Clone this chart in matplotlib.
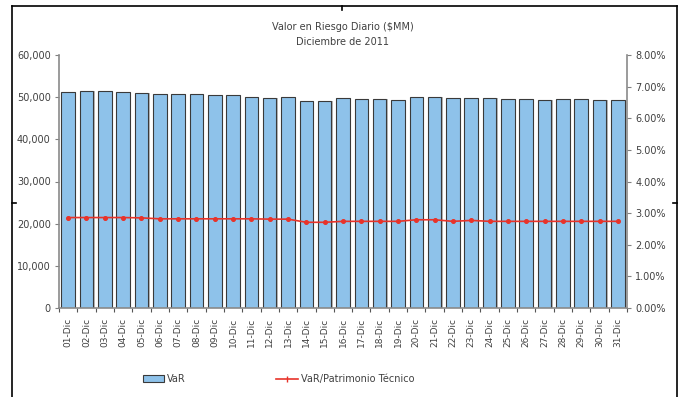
import matplotlib
matplotlib.use("Agg")
import matplotlib.pyplot as plt
from matplotlib.lines import Line2D
from matplotlib.patches import Patch
from matplotlib.ticker import FuncFormatter, FixedLocator
import numpy as np

plt.rcParams['font.family'] = ['DejaVu Sans']

days = ["%02d-Dic" % d for d in range(1, 32)]
var_values = [51260, 51400, 51400, 51250, 51000, 50800, 50800, 50800, 50450, 50450,
              50100, 49850, 50100, 49050, 49050, 49850, 49600, 49600, 49350, 50150,
              50150, 49850, 49850, 49850, 49600, 49600, 49350, 49600, 49600, 49350,
              49350]
ratio_pct = [2.86, 2.86, 2.86, 2.86, 2.85, 2.82, 2.82, 2.82, 2.82, 2.82,
             2.82, 2.81, 2.81, 2.71, 2.71, 2.74, 2.74, 2.74, 2.74, 2.79,
             2.79, 2.74, 2.77, 2.74, 2.74, 2.74, 2.74, 2.74, 2.74, 2.74,
             2.74]
title_lines = ["Valor en Riesgo Diario ($MM)", "Diciembre de 2011"]
legend_labels = ["VaR", "VaR/Patrimonio Técnico"]

W, H = 685, 397
fig = plt.figure(figsize=(W / 100, H / 100), dpi=100)
ax = fig.add_axes([59 / W, 1 - 308 / H, (627 - 59) / W, (308 - 55) / H])

x = np.arange(len(days))
bar_color = "#8EC2EA"
edge = "#3a3a3a"
# shadow bars
ax.bar(x + 0.07, var_values, width=0.74, color="#b8b8b8", edgecolor="none", zorder=1)
ax.bar(x, var_values, width=0.74, color=bar_color, edgecolor=edge, linewidth=0.8, zorder=2)

ax.set_xlim(-0.5, len(days) - 0.5)
ax.set_ylim(0, 60000)
ax.set_yticks(np.arange(0, 60001, 10000))
ax.yaxis.set_major_formatter(FuncFormatter(lambda v, p: f"{int(v):,}"))
ax.set_xticks(x)
ax.set_xticklabels(days, rotation=90, fontsize=6.5)
ax.xaxis.set_minor_locator(FixedLocator(np.arange(-0.5, len(days), 1.0)))
ax.tick_params(axis='x', which='major', length=0, pad=7, colors='#404040')
ax.tick_params(axis='x', which='minor', length=3, direction='out', color='#555555', width=0.8)
ax.tick_params(axis='y', length=3, width=0.8, color='#808080', labelsize=7, labelcolor='#404040', pad=3)

for s in ['top', 'right']:
    ax.spines[s].set_visible(False)
for s in ['left', 'bottom']:
    ax.spines[s].set_color('#8a8a8a')
    ax.spines[s].set_linewidth(1.2)

ax2 = ax.twinx()
ax2.plot(x, ratio_pct, color="#E8332A", linewidth=1.2, marker='o', markersize=2.6, zorder=5)
ax2.set_ylim(0, 8)
ax2.set_yticks(np.arange(0, 8.01, 1))
ax2.yaxis.set_major_formatter(FuncFormatter(lambda v, p: f"{v:.2f}%"))
ax2.tick_params(axis='y', length=3, width=0.8, color='#808080', labelsize=7, labelcolor='#404040', pad=3)
for s in ['top', 'left', 'bottom']:
    ax2.spines[s].set_visible(False)
ax2.spines['right'].set_color('#8a8a8a')
ax2.spines['right'].set_linewidth(1.2)

fig.text(342.5 / W, 1 - 26.7 / H, title_lines[0], ha='center', va='center', fontsize=7, color='#404040')
fig.text(342.5 / W, 1 - 41.7 / H, title_lines[1], ha='center', va='center', fontsize=7, color='#404040')

handles = [Patch(facecolor=bar_color, edgecolor=edge, linewidth=0.8),
           Line2D([0], [0], color="#E8332A", linewidth=1.2, marker='|', markersize=5)]
fig.legend(handles, legend_labels, loc='center left', bbox_to_anchor=(143 / W, 1 - 379 / H),
           ncol=2, frameon=False, fontsize=7, handlelength=2.2, handleheight=0.7,
           handletextpad=0.3, columnspacing=9.3, borderpad=0, borderaxespad=0,
           labelcolor='#404040')

# outer border
bx0, bx1, by0 = 12 / W, 677 / W, 1 - 6 / H
for xs, ys in [([bx0, bx0], [0, by0]), ([bx1, bx1], [0, by0]), ([bx0, bx1], [by0, by0]),
               ([bx0, bx0 + 4 / W], [1 - 203 / H] * 2), ([bx1 - 4 / W, bx1], [1 - 203 / H] * 2),
               ([342 / W, 342 / W], [by0, by0 - 4 / H])]:
    fig.add_artist(Line2D(xs, ys, color='black', linewidth=1.2, transform=fig.transFigure))

fig.savefig("out.png", dpi=100)
